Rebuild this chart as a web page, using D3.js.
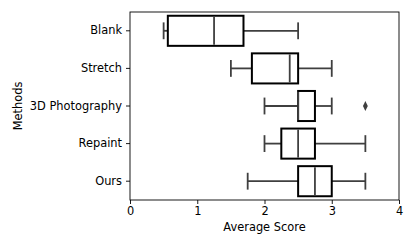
<!DOCTYPE html>
<html><head><meta charset="utf-8">
<script src="https://cdn.jsdelivr.net/npm/d3@7"></script>
<style>body{margin:0;background:#fff}svg{display:block}text{font-family:"DejaVu Sans",sans-serif}</style>
</head><body><svg id="c" width="415" height="249"></svg>
<script>
const methods = ["Blank","Stretch","3D Photography","Repaint","Ours"];
const whiskerLow = [0.5, 1.5, 2.0, 2.0, 1.75];
const q1 = [0.5625, 1.8125, 2.5, 2.25, 2.5];
const median = [1.25, 2.375, 2.5, 2.5, 2.75];
const q3 = [1.6875, 2.5, 2.75, 2.75, 3.0];
const whiskerHigh = [2.5, 3.0, 3.0, 3.5, 3.5];
const outliers = [[], [], [3.5], [], []];
const xTicks = [0,1,2,3,4];

const svg = d3.select("#c");
const L=130, R=399, T=12, B=200;
const x = d3.scaleLinear().domain([0,4]).range([L,R]);
const y = d3.scaleBand().domain(methods).range([T,B]).paddingInner(0.2).paddingOuter(0.1);
const fs = 11.4;

const g = svg.append("g");
const gray = "#3f3f3f";
methods.forEach((m,i)=>{
  const yc = y(m) + y.bandwidth()/2;
  const bw = y.bandwidth();
  const cap = bw*0.28;
  g.append("line").attr("x1",x(whiskerLow[i])).attr("x2",x(q1[i])).attr("y1",yc).attr("y2",yc).attr("stroke",gray).attr("stroke-width",1.8);
  g.append("line").attr("x1",x(q3[i])).attr("x2",x(whiskerHigh[i])).attr("y1",yc).attr("y2",yc).attr("stroke",gray).attr("stroke-width",1.8);
  [whiskerLow[i], whiskerHigh[i]].forEach(v=>{
    g.append("line").attr("x1",x(v)).attr("x2",x(v)).attr("y1",yc-cap).attr("y2",yc+cap).attr("stroke",gray).attr("stroke-width",1.8);
  });
  g.append("rect").attr("x",x(q1[i])).attr("y",y(m)).attr("width",x(q3[i])-x(q1[i])).attr("height",bw)
    .attr("fill","#fff").attr("stroke","#000").attr("stroke-width",2);
  g.append("line").attr("x1",x(median[i])).attr("x2",x(median[i])).attr("y1",y(m)+1).attr("y2",y(m)+bw-1).attr("stroke",gray).attr("stroke-width",1.8);
  outliers[i].forEach(v=>{
    g.append("path").attr("d",d3.symbol(d3.symbolDiamond,28)()).attr("transform",`translate(${x(v)},${yc}) scale(0.85,1)`).attr("fill",gray);
  });
});

svg.append("rect").attr("x",L).attr("y",T).attr("width",R-L).attr("height",B-T).attr("fill","none").attr("stroke","#000").attr("stroke-width",0.9);

const xa = svg.append("g").attr("transform",`translate(0,${B})`).call(d3.axisBottom(x).tickValues(xTicks).tickFormat(d3.format("d")).tickSize(4).tickPadding(3));
const ya = svg.append("g").attr("transform",`translate(${L},0)`).call(d3.axisLeft(y).tickSize(4).tickPadding(4));
[xa,ya].forEach(a=>{a.select(".domain").remove();a.selectAll("line").attr("stroke","#000").attr("stroke-width",0.9);a.selectAll("text").attr("font-size",fs).attr("fill","#000").attr("font-family","DejaVu Sans");});

svg.append("text").attr("x",(L+R)/2).attr("y",231).attr("text-anchor","middle").attr("font-size",fs).text("Average Score");
svg.append("text").attr("transform",`translate(22,${(T+B)/2}) rotate(-90)`).attr("text-anchor","middle").attr("font-size",fs).text("Methods");
</script></body></html>
